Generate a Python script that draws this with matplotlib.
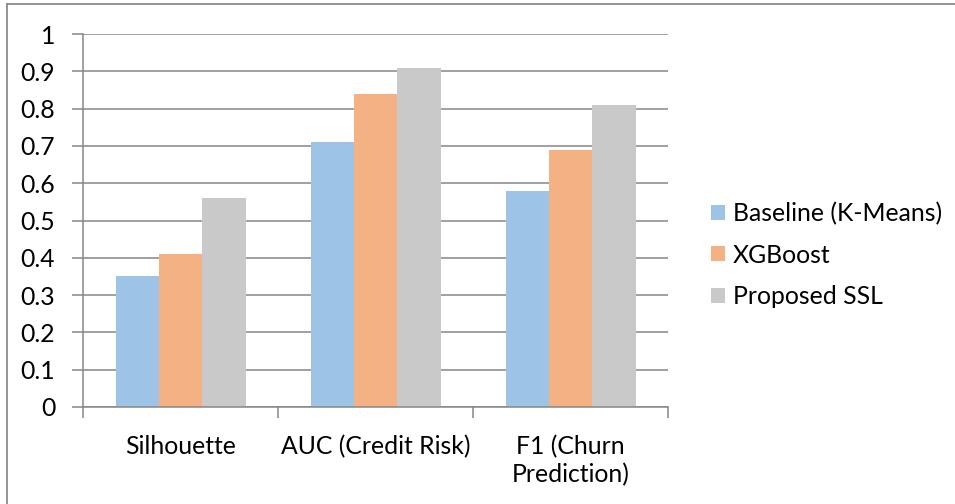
import matplotlib
matplotlib.use("Agg")
import matplotlib.pyplot as plt
from matplotlib.patches import Patch
from matplotlib.lines import Line2D
import numpy as np

categories = ["Silhouette", "AUC (Credit Risk)", "F1 (Churn\nPrediction)"]
series_names = ["Baseline (K-Means)", "XGBoost", "Proposed SSL"]
baseline = [0.35, 0.71, 0.58]
xgboost = [0.41, 0.84, 0.69]
proposed = [0.56, 0.91, 0.81]
y_ticks = [0, 0.1, 0.2, 0.3, 0.4, 0.5, 0.6, 0.7, 0.8, 0.9, 1]
y_tick_labels = ["0", "0.1", "0.2", "0.3", "0.4", "0.5", "0.6", "0.7", "0.8", "0.9", "1"]

colors = ["#9DC3E6", "#F4B183", "#C9C9C9"]
grid_color = "#868686"
font = "Lato"
fs = 17.8

W, H = 955, 504
fig = plt.figure(figsize=(W / 100, H / 100), dpi=100)

# outer chart border (top and left edges)
fig.add_artist(Line2D([7 / W, 1.0], [1 - 4 / H, 1 - 4 / H], color="#8C8C8C", lw=1.3))
fig.add_artist(Line2D([7 / W, 7 / W], [0.0, 1 - 4 / H], color="#8C8C8C", lw=1.3))

ax = fig.add_axes([83 / W, 1 - 407 / H, 585 / W, 373 / H])

x = np.arange(len(categories))
bw = 2 / 9
for i, (vals, name) in enumerate(zip([baseline, xgboost, proposed], series_names)):
    ax.bar(x + (i - 1) * bw, vals, width=bw, color=colors[i], label=name, zorder=3)

ax.set_xlim(-0.5, len(categories) - 0.5)
ax.set_ylim(0, 1)
ax.set_yticks(y_ticks)
ax.set_yticklabels(y_tick_labels, fontfamily=font, fontsize=fs)
ax.yaxis.grid(True, color=grid_color, lw=1.1, zorder=0)

# category labels centred, ticks at category boundaries
ax.set_xticks(x)
ax.set_xticklabels(categories, fontfamily=font, fontsize=fs, linespacing=1.25)
ax.tick_params(axis="x", length=0, pad=20)
ax.set_xticks(np.arange(len(categories) + 1) - 0.5, minor=True)
ax.tick_params(axis="x", which="minor", length=8, width=1.1, color=grid_color, direction="out")
ax.tick_params(axis="y", length=8, width=1.1, color=grid_color, direction="out", pad=12)

for s in ["top", "right"]:
    ax.spines[s].set_visible(False)
for s in ["left", "bottom"]:
    ax.spines[s].set_color(grid_color)
    ax.spines[s].set_linewidth(1.1)
    ax.spines[s].set_zorder(4)

handles = [Patch(facecolor=c, edgecolor="none") for c in colors]
fig.legend(handles, series_names, loc="center left",
           bbox_to_anchor=(711 / W, 1 - 255 / H), frameon=False,
           prop={"family": font, "size": fs},
           handlelength=0.56, handleheight=0.56, handletextpad=0.32,
           labelspacing=0.74, borderaxespad=0, borderpad=0)

fig.savefig("out.png", dpi=100)
